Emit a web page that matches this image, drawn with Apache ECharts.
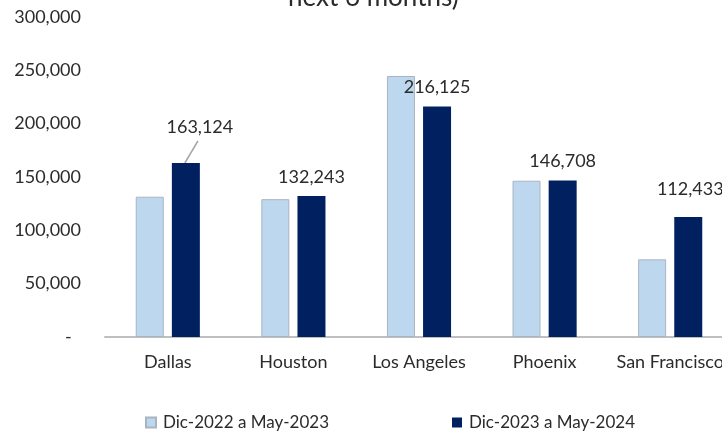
<!DOCTYPE html>
<html>
<head>
<meta charset="utf-8">
<script src="https://cdn.jsdelivr.net/npm/echarts@6/dist/echarts.min.js"></script>
<style>
  html, body { margin: 0; padding: 0; background: #fff; overflow: hidden; width: 722px; height: 431px; }
  /* canvas runs past the right edge so the last category is cut off */
  #chart { width: 760px; height: 431px; }
</style>
</head>
<body>
<div id="chart"></div>
<script>
// Markets and the two six-month windows being compared
const categories = ['Dallas', 'Houston', 'Los Angeles', 'Phoenix', 'San Francisco'];
const seriesNames = ['Dic-2022 a May-2023', 'Dic-2023 a May-2024'];
const prevPeriod = [131500, 129200, 244700, 146500, 72800];
const currPeriod = [163124, 132243, 216125, 146708, 112433];
const yTicks = { min: 0, max: 300000, interval: 50000 };

const FONT = 'Lato, "Open Sans", sans-serif';
const TEXT = '#2b2b2b';

const fmt = v => v.toLocaleString('en-US');

const chart = echarts.init(document.getElementById('chart'), null, { renderer: 'canvas' });

chart.setOption({
  animation: false,
  textStyle: { fontFamily: FONT },
  title: {
    text: 'next 6 months)',
    left: 288,
    top: -15,
    padding: 0,
    textStyle: { fontFamily: FONT, fontSize: 26, fontWeight: 400, color: TEXT }
  },
  grid: { left: 105, right: 27, top: 17, bottom: 94, containLabel: false },
  legend: {
    left: 145,
    top: 414,
    padding: 0,
    itemWidth: 10,
    itemHeight: 10,
    itemGap: 123,
    icon: 'rect',
    textStyle: { fontFamily: FONT, fontSize: 17, color: TEXT, padding: [0, 0, 0, 2] },
    data: seriesNames
  },
  xAxis: {
    type: 'category',
    data: categories,
    axisLine: { lineStyle: { color: '#BFBFBF', width: 2 } },
    axisTick: { show: false },
    axisLabel: { fontFamily: FONT, fontSize: 18, color: TEXT, margin: 16, interval: 0 }
  },
  yAxis: {
    type: 'value',
    min: yTicks.min,
    max: yTicks.max,
    interval: yTicks.interval,
    splitLine: { show: false },
    axisLine: { show: false },
    axisTick: { show: false },
    axisLabel: {
      fontFamily: FONT, fontSize: 18, color: TEXT, margin: 24,
      formatter: v => (v === 0 ? '-  ' : fmt(v))
    }
  },
  series: [
    {
      name: seriesNames[0],
      type: 'bar',
      barWidth: 28,
      barGap: '29%',
      itemStyle: { color: '#BDD7EE', borderColor: '#A9B4C2', borderWidth: 1 },
      data: prevPeriod
    },
    {
      name: seriesNames[1],
      type: 'bar',
      barWidth: 28,
      barGap: '29%',
      itemStyle: { color: '#002060' },
      label: {
        show: true,
        position: 'top',
        distance: 10,
        fontFamily: FONT,
        fontSize: 18,
        color: TEXT,
        formatter: p => fmt(p.value)
      },
      labelLayout: p => {
        if (p.dataIndex === 0) return { dx: 14, dy: -17 };
        if (p.dataIndex === 4) return { dx: 2, dy: -9 };
        return {};
      },
      data: currPeriod
    }
  ]
});

// Leader line from the Dallas bar to its shifted value label
const dallas = chart.getModel().getSeriesByIndex(1).getData().getItemLayout(0);
const barTop = Math.min(dallas.y, dallas.y + dallas.height);
const barMid = dallas.x + dallas.width / 2;
chart.setOption({
  graphic: [{
    type: 'line',
    silent: true,
    shape: { x1: barMid - 1, y1: barTop, x2: barMid + 12, y2: barTop - 22 },
    style: { stroke: '#A6A6A6', lineWidth: 1.5 }
  }]
});
</script>
</body>
</html>
